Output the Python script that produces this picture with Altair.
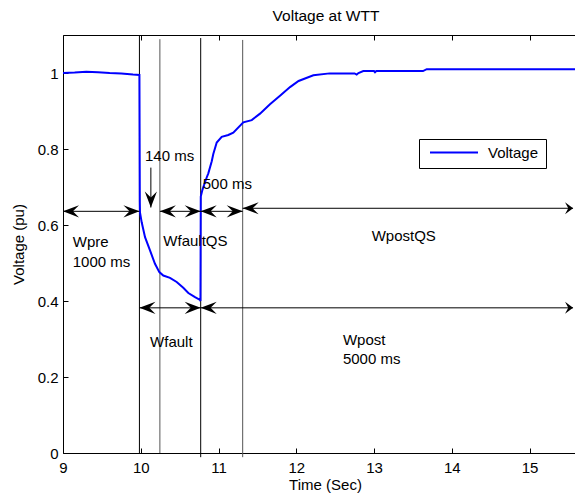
import altair as alt
import pandas as pd

FONT = "Liberation Sans"

# ---- data ----
time_s = [9.00, 9.15, 9.30, 9.45, 9.60, 9.75, 9.90, 9.983,
          9.988, 9.990, 10.012, 10.055, 10.119, 10.183, 10.239, 10.29, 10.376,
          10.462, 10.547, 10.612, 10.698, 10.762, 10.768,
          10.772, 10.79, 10.805, 10.848, 10.869, 10.913, 10.933, 10.977, 11.041,
          11.126, 11.19, 11.319, 11.427, 11.534, 11.662, 11.791, 11.92, 12.03,
          12.22, 12.43, 12.75, 12.777, 12.80, 12.862, 13.00, 13.013, 13.03,
          13.077, 13.63, 13.678, 14.5, 15.69]
voltage_pu = [1.000, 1.001, 1.003, 1.002, 1.000, 0.999, 0.996, 0.995,
              0.660, 0.633, 0.607, 0.568, 0.533, 0.498, 0.476, 0.467, 0.461,
              0.450, 0.435, 0.421, 0.410, 0.403, 0.400,
              0.675, 0.690, 0.700, 0.725, 0.736, 0.768, 0.787, 0.817, 0.832,
              0.837, 0.843, 0.870, 0.876, 0.893, 0.918, 0.940, 0.963, 0.979,
              0.994, 0.999, 0.999, 0.996, 1.000, 1.005, 1.005, 1.002, 1.005,
              1.005, 1.005, 1.010, 1.010, 1.010]

event_times = [9.983, 10.246, 10.771, 11.311]
event_tops = [1.1, 1.089, 1.092, 1.087]
event_bottoms = [0.0, 0.0, -0.011, -0.011]
event_kind = ["main", "sub", "main", "sub"]

span_start = [9.0, 10.246, 10.771, 11.311, 9.983, 10.771]
span_end = [9.983, 10.771, 11.311, 15.56, 10.771, 15.56]
span_level = [0.636, 0.636, 0.636, 0.644, 0.382, 0.382]

down_arrow_t = 10.13
down_arrow_from = 0.751
down_arrow_to = 0.646

label_text = ["140 ms", "500 ms", "Wpre", "1000 ms", "WfaultQS", "Wfault",
              "WpostQS", "Wpost", "5000 ms"]
label_t = [10.055, 10.797, 9.125, 9.125, 10.29, 10.12, 12.97, 12.6, 12.6]
label_v = [0.782, 0.709, 0.556, 0.502, 0.559, 0.292, 0.572, 0.297, 0.247]

x_ticks = [9, 10, 11, 12, 13, 14, 15]
y_ticks = [0, 0.2, 0.4, 0.6, 0.8, 1.0]
X_MAX = 15.585
EDGE = 15.5

# ---- tables ----
volt_df = pd.DataFrame({"t": time_s, "v": voltage_pu, "series": "Voltage"})
ev_df = pd.DataFrame({"t": event_times, "top": event_tops, "bot": event_bottoms,
                      "kind": event_kind})
seg_rows = [{"x": a, "x2": b, "y": lv, "y2": lv}
            for a, b, lv in zip(span_start, span_end, span_level)]
seg_rows.append({"x": down_arrow_t, "x2": down_arrow_t,
                 "y": down_arrow_from, "y2": down_arrow_to})
seg_df = pd.DataFrame(seg_rows)

head_rows = []
edge_rows = []
for a, b, lv in zip(span_start, span_end, span_level):
    head_rows.append({"t": a, "v": lv, "dir": "left"})
    if b >= EDGE:
        edge_rows.append({"t": b, "v": lv})
    else:
        head_rows.append({"t": b, "v": lv, "dir": "right"})
head_rows.append({"t": down_arrow_t, "v": down_arrow_to, "dir": "down"})
head_df = pd.DataFrame(head_rows)
edge_df = pd.DataFrame(edge_rows)
lab_df = pd.DataFrame({"t": label_t, "v": label_v, "text": label_text})

sx = alt.Scale(domain=[9, X_MAX], nice=False, zero=False)
sy = alt.Scale(domain=[0, 1.1], nice=False, zero=False)

tick_x_bottom = alt.Axis(orient="bottom", offset=-5, values=x_ticks, labels=False,
                         domain=False, ticks=True, tickSize=5, tickColor="black",
                         grid=False, title=None)
tick_y_left = alt.Axis(orient="left", offset=-5, values=y_ticks, labels=False,
                       domain=False, ticks=True, tickSize=5, tickColor="black",
                       grid=False, title=None)
top_border = alt.Axis(orient="top", values=x_ticks, labels=False, ticks=False,
                      domain=True, domainColor="black", grid=False, title=None)
tick_x_top = alt.Axis(orient="top", offset=-5, values=x_ticks, labels=False,
                      domain=False, ticks=True, tickSize=5, tickColor="black",
                      grid=False, title=None)

main_x = alt.Axis(orient="bottom", values=x_ticks, format="d", grid=False,
                  ticks=False, tickSize=0, domain=True, domainColor="black",
                  labelColor="black", labelFont=FONT, labelFontSize=15,
                  labelPadding=7, labelFlush=False, labelOverlap=False,
                  title="Time (Sec)", titleFont=FONT, titleFontSize=15,
                  titleFontWeight="normal", titleColor="black",
                  titleX=262, titleY=36, titleBaseline="alphabetic")
main_y = alt.Axis(orient="left", values=y_ticks, format="~g", grid=False,
                  ticks=False, tickSize=0, domain=True, domainColor="black",
                  labelColor="black", labelFont=FONT, labelFontSize=15,
                  labelPadding=5, labelFlush=False, labelOverlap=False,
                  title="Voltage (pu)", titleFont=FONT, titleFontSize=15,
                  titleFontWeight="normal", titleColor="black",
                  titleX=-45, titleY=209, titleAngle=270,
                  titleAlign="center", titleBaseline="middle")

vlines = alt.Chart(ev_df).mark_rule(strokeWidth=1).encode(
    x=alt.X("t:Q", scale=sx, axis=tick_x_bottom),
    y=alt.Y("bot:Q", scale=sy, axis=tick_y_left),
    y2="top:Q",
    stroke=alt.Stroke("kind:N", scale=alt.Scale(domain=["main", "sub"],
                                                range=["#000000", "#555555"]),
                      legend=None),
)

line = alt.Chart(volt_df).mark_line(strokeWidth=2, clip=True).encode(
    x=alt.X("t:Q", scale=sx, axis=main_x),
    y=alt.Y("v:Q", scale=sy, axis=main_y),
    color=alt.Color("series:N",
                    scale=alt.Scale(domain=["Voltage"], range=["#0000ff"]),
                    legend=alt.Legend(orient="none", legendX=356, legendY=104,
                                      title=None, symbolType="stroke",
                                      symbolSize=2304, symbolStrokeWidth=2,
                                      symbolOffset=3, clipHeight=13,
                                      labelFont=FONT, labelFontSize=15,
                                      labelColor="black", labelOffset=9,
                                      strokeColor="black", fillColor="white",
                                      padding=7)),
    order="t:Q",
)

shafts = alt.Chart(seg_df).mark_rule(color="black", strokeWidth=1).encode(
    x=alt.X("x:Q", scale=sx, axis=top_border),
    x2="x2:Q",
    y=alt.Y("y:Q", scale=sy, axis=None),
    y2="y2:Q",
)

heads = alt.Chart(head_df).mark_point(filled=True, color="black", opacity=1,
                                      size=1024, strokeWidth=0).encode(
    x=alt.X("t:Q", scale=sx, axis=tick_x_top),
    y=alt.Y("v:Q", scale=sy, axis=None),
    shape=alt.Shape("dir:N", scale=alt.Scale(
        domain=["left", "right", "down"],
        range=["M0,0L1,-0.38L0.62,0L1,0.38Z",
               "M0,0L-1,-0.38L-0.62,0L-1,0.38Z",
               "M0,0L-0.38,-1L0,-0.62L0.38,-1Z"]), legend=None),
)

edge_heads = alt.Chart(edge_df).mark_point(
    filled=True, color="black", opacity=1, size=256, strokeWidth=0,
    shape="M0,0L-1,-0.75L-0.6,0L-1,0.75Z").encode(
    x=alt.X("t:Q", scale=sx, axis=None),
    y=alt.Y("v:Q", scale=sy, axis=None),
)

labels = alt.Chart(lab_df).mark_text(align="left", baseline="middle", font=FONT,
                                     fontSize=15, color="black").encode(
    x=alt.X("t:Q", scale=sx, axis=None),
    y=alt.Y("v:Q", scale=sy, axis=None),
    text="text:N",
)

chart = alt.layer(vlines, line, shafts, heads, edge_heads, labels).resolve_axis(
    x="independent", y="independent"
).properties(
    width=512, height=418,
    title=alt.TitleParams("Voltage at WTT", font=FONT, fontSize=15.5,
                          fontWeight="normal", color="black", anchor="middle",
                          offset=10, dx=7),
    autosize=alt.AutoSizeParams(type="none"),
    padding={"left": 55, "top": 27, "right": 0, "bottom": 40},
).configure_view(stroke=None)

chart.save("out.html", embed_options={"renderer": "svg", "actions": False})
